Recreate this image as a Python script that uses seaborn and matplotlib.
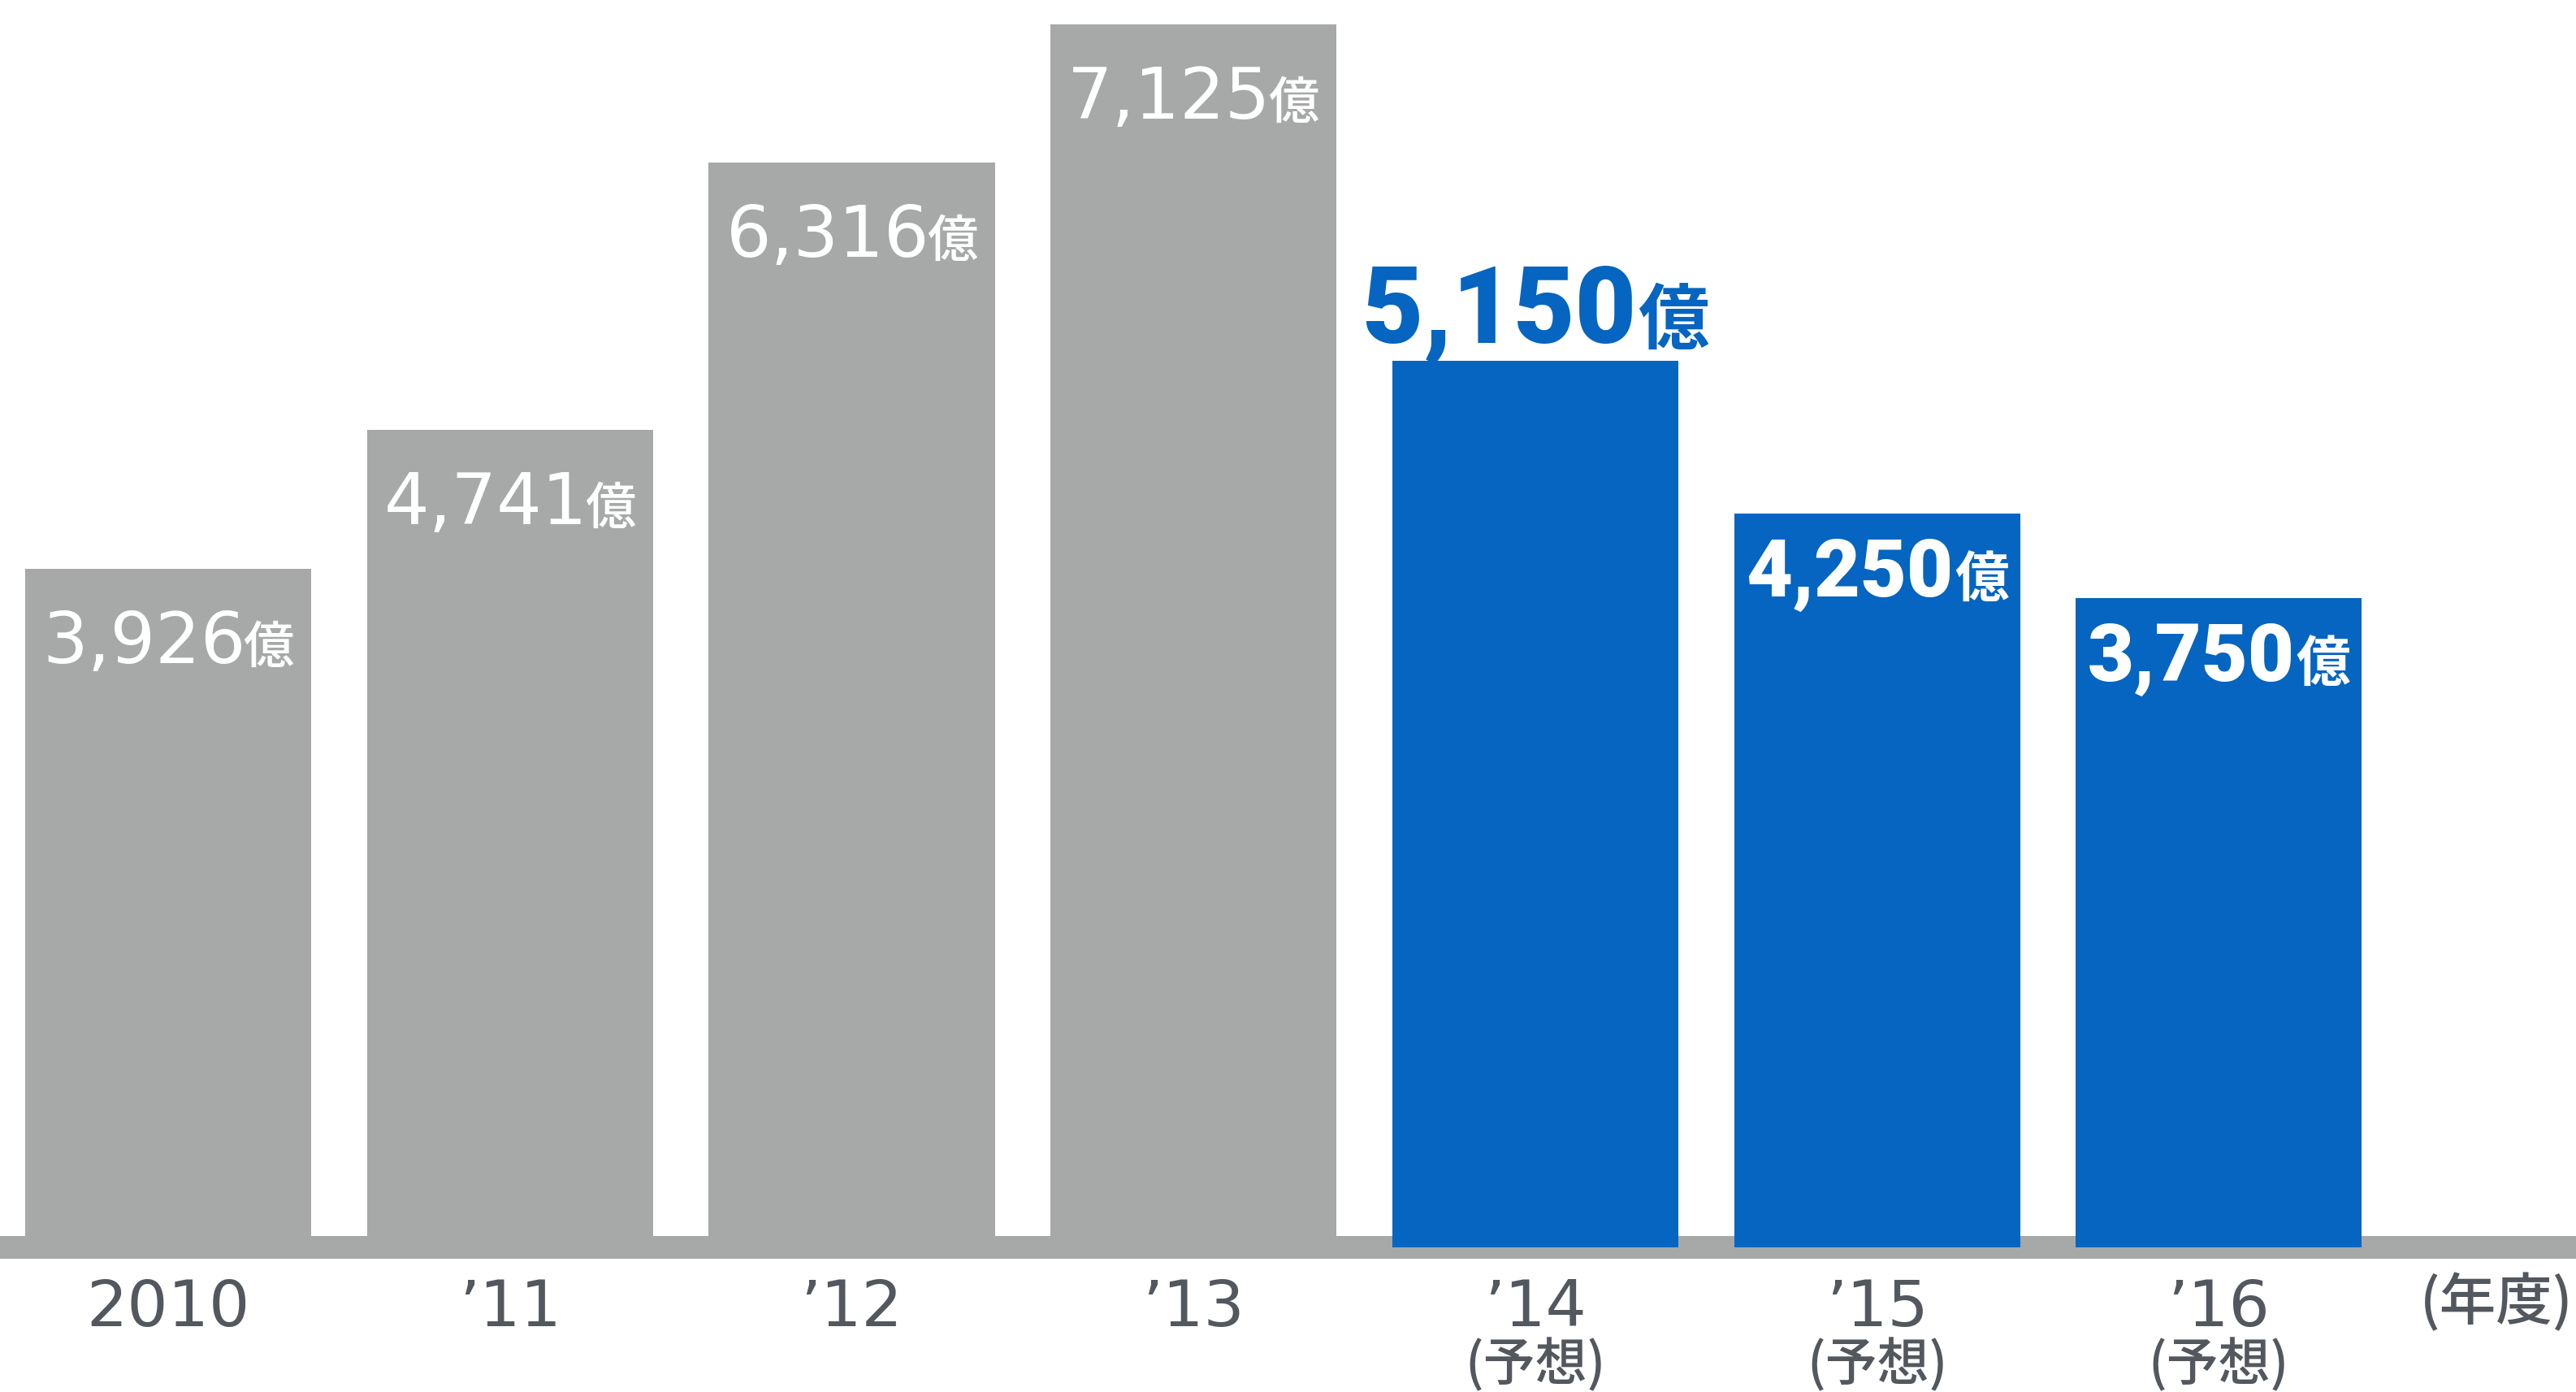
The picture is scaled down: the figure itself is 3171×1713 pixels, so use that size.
import numpy as np
import pandas as pd
import matplotlib
matplotlib.use("Agg")
import matplotlib.pyplot as plt
from matplotlib.colors import to_rgba
import seaborn as sns

# ---- data ----
years = ["2010", "\u201911", "\u201912", "\u201913", "\u201914", "\u201915", "\u201916"]
values = [3926, 4741, 6316, 7125, 5150, 4250, 3750]
kinds = ["実績", "実績", "実績", "実績", "予想", "予想", "予想"]
sub_labels = ["", "", "", "", "(予想)", "(予想)", "(予想)"]
unit = "億"
axis_unit = "(年度)"
highlight_year = "\u201914"

GRAY = "#A6A9A8"
BLUE = "#0565C0"
TEXT = "#53575E"

sns.set_theme(style="white")
plt.rcParams["font.family"] = ["DejaVu Sans", "Noto Sans CJK JP"]

W, H, DPI = 3171, 1713, 100
fig = plt.figure(figsize=(W / DPI, H / DPI), dpi=DPI)
ax = fig.add_axes([0, 0, 1, 1])

df = pd.DataFrame({"year": years, "value": values, "kind": kinds})
sns.barplot(data=df, x="year", y="value", hue="kind",
            palette={"実績": GRAY, "予想": BLUE}, dodge=False,
            width=0.837, saturation=1, legend=False, linewidth=0, ax=ax)

ax.set_xlim(-0.492, 7.045)
ax.set_ylim(-918, 7270)
ax.axis("off")

# baseline band
ax.axhspan(-134, 0, color=GRAY, zorder=0.5, lw=0)

# forecast bars sit slightly over the band
blue_rgba = to_rgba(BLUE)
ext = 67
for p in ax.patches:
    if np.allclose(p.get_facecolor(), blue_rgba, atol=0.01):
        p.set_y(p.get_y() - ext)
        p.set_height(p.get_height() + ext)
        p.set_zorder(2)

fig.canvas.draw()
renderer = fig.canvas.get_renderer()


def value_label(x, yv, num, num_kw, unit_kw, dy, sep=0):
    t1 = ax.annotate(num, (x, yv), xytext=(0, dy), textcoords="offset pixels",
                     ha="left", va="baseline", zorder=5, **num_kw)
    t2 = ax.annotate(unit, (x, yv), xytext=(0, dy), textcoords="offset pixels",
                     ha="left", va="baseline", zorder=5, **unit_kw)
    w1 = t1.get_window_extent(renderer).width
    w2 = t2.get_window_extent(renderer).width
    total = w1 + sep + w2
    t1.xyann = (-total / 2, dy)
    t2.xyann = (-total / 2 + w1 + sep, dy)


for i, (yr, v, k) in enumerate(zip(years, values, kinds)):
    num = f"{v:,}"
    if k == "実績":
        value_label(i, v, num,
                    dict(fontsize=63, color="white", family="DejaVu Sans"),
                    dict(fontsize=45, color="white", family="Noto Sans CJK JP",
                         fontweight="medium"),
                    dy=-116, sep=-3)
    elif yr == highlight_year:
        value_label(i, v, num,
                    dict(fontsize=94, color=BLUE, family="Roboto", fontweight="black"),
                    dict(fontsize=63, color=BLUE, family="Noto Sans CJK JP", fontweight="bold"),
                    dy=22, sep=2)
    else:
        value_label(i, v, num,
                    dict(fontsize=71, color="white", family="Roboto", fontweight="black"),
                    dict(fontsize=48, color="white", family="Noto Sans CJK JP", fontweight="bold"),
                    dy=-102, sep=2)

# x labels
for i, (yr, sub) in enumerate(zip(years, sub_labels)):
    ax.annotate(yr, (i, 0), xytext=(0, -111), textcoords="offset pixels",
                ha="center", va="baseline", fontsize=57, color=TEXT,
                family="DejaVu Sans")
    if sub:
        ax.annotate(sub, (i, 0), xytext=(0, -178), textcoords="offset pixels",
                    ha="center", va="baseline", fontsize=46, color=TEXT,
                    family="Noto Sans CJK JP", fontweight="medium")

fig.text(3167 / W, 1 - 1624 / H, axis_unit, ha="right", va="baseline",
         fontsize=50, color=TEXT, family="Noto Sans CJK JP", fontweight="medium")

fig.savefig("out.png", dpi=DPI, facecolor="white")
